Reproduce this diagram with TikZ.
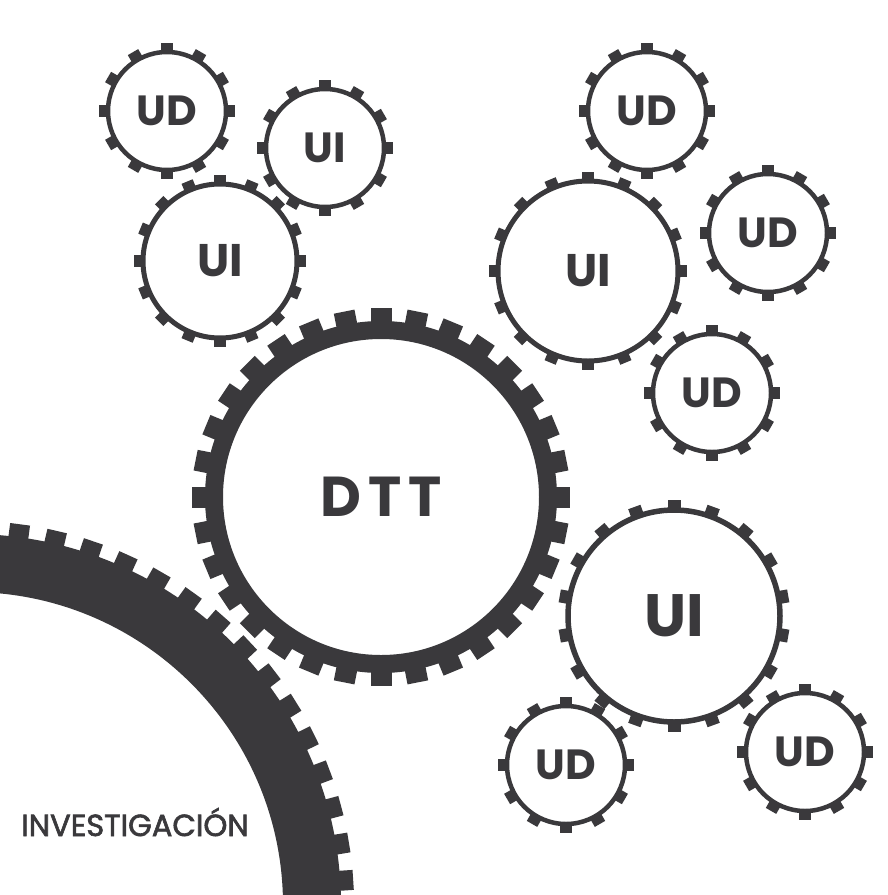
\documentclass[tikz,border=0pt]{standalone}
\usepackage{fontspec}
\setmainfont{Poppins}
\usetikzlibrary{positioning}
\definecolor{GearGray}{HTML}{3A393C}

% teeth round a gear node: node, ring radius, tip radius, tooth width, count, start angle
\newcommand{\gearteeth}[6]{%
  \pgfmathsetmacro{\gstep}{360/#5}
  \pgfmathsetmacro{\gnext}{#6+\gstep}
  \pgfmathsetmacro{\gend}{#6+359}
  \foreach \a in {#6,\gnext,...,\gend}
    \fill[GearGray,shift={(#1)},rotate=\a] (#2,-#4/2) rectangle (#3,#4/2);
}

\begin{document}
\begin{tikzpicture}[x=0.3mm,y=-0.3mm,
  gear/.style={circle,draw=GearGray,inner sep=0pt,text=GearGray},
  udgear/.style={gear,line width=1.35mm,minimum size=35.4mm,font=\bfseries\fontsize{36}{36}\selectfont},
  uigear/.style={gear,line width=1.5mm,font=\bfseries\fontsize{39}{39}\selectfont},
  dttgear/.style={gear,line width=5.4mm,minimum size=100.2mm,font=\bfseries\fontsize{48}{48}\selectfont\addfontfeatures{LetterSpace=12}},
  biggear/.style={gear,line width=17.4mm,minimum size=205.2mm},
  caption/.style={text=GearGray,font=\fontsize{26}{26}\selectfont\addfontfeatures{FakeBold=2}}
]
\clip (0,0) rectangle (888,895);
\fill[white] (0,0) rectangle (888,895);

% left group
\node[udgear] (udA) at (167,111) {UD};
\node[udgear] (uiA) at (325,148) {UI};
\node[uigear,minimum size=46.2mm] (uiB) at (220,261) {UI};
% right group
\node[udgear] (udB) at (647,111) {UD};
\node[uigear,minimum size=54mm] (uiC) at (588,271) {UI};
\node[udgear] (udC) at (768,233) {UD};
\node[udgear] (udD) at (712,393) {UD};
% centre
\node[dttgear] (dtt) at (381,497) {DTT};
% lower right group
\node[uigear,line width=1.65mm,minimum size=63.6mm,font=\bfseries\fontsize{51}{51}\selectfont] (uiD) at (674,616) {UI};
\node[udgear] (udE) at (566,765) {UD};
\node[udgear] (udF) at (805,752) {UD};
% big gear
\node[biggear] (inv) at (-30,905) {};
\node[caption] (invlabel) at (135,822) {INVESTIGACIÓN};

\gearteeth{udA}{59}{68}{12}{12}{0}
\gearteeth{uiA}{59}{68}{12}{12}{0}
\gearteeth{uiB}{77}{86}{12}{16}{0}
\gearteeth{udB}{59}{68}{12}{12}{0}
\gearteeth{uiC}{90}{99}{12}{16}{0}
\gearteeth{udC}{59}{68}{12}{12}{0}
\gearteeth{udD}{59}{68}{12}{12}{0}
\gearteeth{dtt}{167}{189}{21}{32}{0}
\gearteeth{uiD}{106}{116}{13}{18}{10}
\gearteeth{udE}{59}{68}{12}{12}{0}
\gearteeth{udF}{59}{68}{12}{12}{0}
\gearteeth{inv}{342}{384}{20}{64}{3.75}
\end{tikzpicture}
\end{document}
